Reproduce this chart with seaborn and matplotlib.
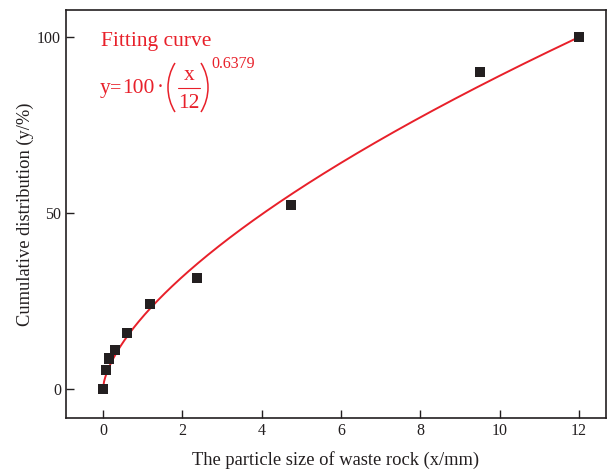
import numpy as np
import pandas as pd
import seaborn as sns
import matplotlib
matplotlib.use("Agg")
import matplotlib.pyplot as plt
from matplotlib.patches import Arc
from matplotlib.lines import Line2D
from matplotlib.transforms import IdentityTransform

size_mm = [0, 0.075, 0.15, 0.3, 0.6, 1.18, 2.36, 4.75, 9.5, 12]
cumulative = [0, 5.4, 8.7, 11, 16, 24.2, 31.5, 52.3, 90, 100]
x_ticks = [0, 2, 4, 6, 8, 10, 12]
y_ticks = [0, 50, 100]
exponent = 0.6379
dmax = 12

sns.set_theme(style="ticks")
plt.rcParams['font.family'] = ['Liberation Serif', 'DejaVu Serif']

W, H = 608, 475
fig = plt.figure(figsize=(W / 100, H / 100), dpi=100)
ax = fig.add_axes([66/W, 1-418/H, 540/W, 408/H])

xs = np.linspace(0, dmax, 400)
fit = pd.DataFrame({"x": xs, "y": 100 * (xs / dmax) ** exponent})
sns.lineplot(data=fit, x="x", y="y", color="#e8202a", lw=1.4, ax=ax)
df = pd.DataFrame({"x": size_mm, "y": cumulative})
sns.scatterplot(data=df, x="x", y="y", marker="s", s=52, color="#231f20",
                edgecolor="none", ax=ax, zorder=3)

ax.set_xlim(-0.93, 12.68)
ax.set_ylim(-8.2, 107.7)
ax.set_xticks(x_ticks)
ax.set_yticks(y_ticks)
ax.tick_params(direction="in", length=6, width=1, labelsize=11.5, colors="#231f20")
for s in ax.spines.values():
    s.set_linewidth(1.2)
    s.set_color("#231f20")
ax.set_xlabel("The particle size of waste rock (x/mm)", fontsize=13.3, color="#231f20", labelpad=9)
ax.set_ylabel("Cumulative distribution (y/%)", fontsize=13.3, color="#231f20", labelpad=2)

red = "#e8202a"
def fx(px):
    return px / W
def fy(py):
    return 1 - py / H

fs = 15.5
fig.text(fx(101), fy(46), "Fitting curve", fontsize=fs, color=red, va="baseline", ha="left")
fig.text(fx(100), fy(93), "y", fontsize=fs, color=red, va="baseline", ha="left")
fig.text(fx(116), fy(93), "=", fontsize=fs - 1, color=red, va="baseline", ha="center")
fig.text(fx(122), fy(93), "100", fontsize=fs, color=red, va="baseline", ha="left")
fig.text(fx(160), fy(93), "\u00b7", fontsize=fs, color=red, va="baseline", ha="center")
fig.text(fx(189), fy(80), "x", fontsize=fs, color=red, va="baseline", ha="center")
fig.text(fx(189), fy(108), "12", fontsize=fs, color=red, va="baseline", ha="center")
fig.text(fx(211), fy(68), f"{exponent}", fontsize=11.5, color=red, va="baseline", ha="left")
fig.add_artist(Line2D([fx(178), fx(200)], [fy(88), fy(88)], transform=fig.transFigure,
                      color=red, lw=0.8))
# parentheses
r, half = 46.4, 31.9
fig.add_artist(Arc((168 + r, H - 87.5), 2 * r, 2 * r, theta1=180 - half, theta2=180 + half,
                   transform=IdentityTransform(), color=red, lw=1.1))
fig.add_artist(Arc((208 - r, H - 87.5), 2 * r, 2 * r, theta1=-half, theta2=half,
                   transform=IdentityTransform(), color=red, lw=1.1))

fig.savefig("out.png", dpi=100)
